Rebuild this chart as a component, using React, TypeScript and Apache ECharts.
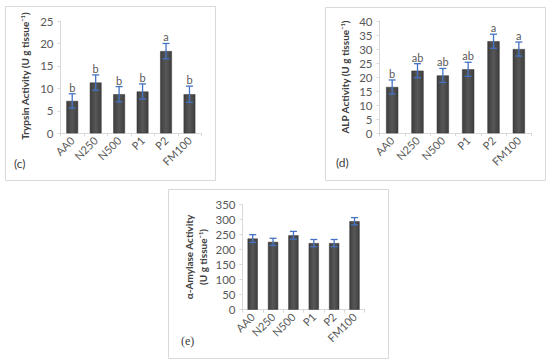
import React, { useEffect, useRef } from "react";
import * as echarts from "echarts";

const categories = ["AA0", "N250", "N500", "P1", "P2", "FM100"];

const trypsinValues = [7.2, 11.3, 8.7, 9.3, 18.3, 8.7];
const trypsinErrors = [1.6, 1.7, 1.7, 1.7, 1.7, 1.8];
const trypsinLetters = ["b", "b", "b", "b", "a", "b"];
const trypsinTicks = { min: 0, max: 25, interval: 5 };

const alpValues = [16.5, 22.3, 20.6, 22.8, 32.8, 30.0];
const alpErrors = [2.5, 2.5, 2.5, 2.5, 2.5, 2.5];
const alpLetters = ["b", "ab", "ab", "ab", "a", "a"];
const alpTicks = { min: 0, max: 40, interval: 5 };

const amylaseValues = [237, 226, 248, 222, 222, 295];
const amylaseErrors = [13, 12, 13, 12, 12, 12];
const amylaseLetters = ["", "", "", "", "", ""];
const amylaseTicks = { min: 0, max: 350, interval: 50 };

const FONT = "Lato, 'Noto Sans', sans-serif";
const GRAY = "#595959";
const DARK = "#404040";
const LIGHT = "#d9d9d9";

const barColor = new echarts.graphic.LinearGradient(0, 0, 1, 0, [
  { offset: 0, color: "#3e3e3e" },
  { offset: 0.5, color: "#575757" },
  { offset: 1, color: "#3e3e3e" },
]);

function errorRender(letters: string[]) {
  return (params: any, api: any) => {
    const x = api.value(0);
    const v = api.value(1);
    const e = api.value(2);
    const top = api.coord([x, v + e]);
    const bot = api.coord([x, v - e]);
    const hw = 3.5;
    const st = { stroke: "#4472c4", lineWidth: 1.3 };
    const children: any[] = [
      { type: "line", shape: { x1: top[0], y1: top[1], x2: bot[0], y2: bot[1] }, style: st },
      { type: "line", shape: { x1: top[0] - hw, y1: top[1], x2: top[0] + hw, y2: top[1] }, style: st },
      { type: "line", shape: { x1: bot[0] - hw, y1: bot[1], x2: bot[0] + hw, y2: bot[1] }, style: st },
    ];
    const letter = letters[params.dataIndex];
    if (letter) {
      children.push({
        type: "text",
        style: {
          text: letter,
          x: top[0],
          y: top[1] - 1,
          align: "center",
          verticalAlign: "bottom",
          fill: GRAY,
          font: `11px ${FONT}`,
        },
      });
    }
    return { type: "group", children };
  };
}

function xAxisFor(gridIndex: number) {
  return {
    type: "category",
    gridIndex,
    data: categories,
    axisLine: { show: true, lineStyle: { color: LIGHT, width: 1 } },
    axisTick: { show: true, length: 3, lineStyle: { color: LIGHT } },
    axisLabel: { rotate: 45, color: GRAY, fontSize: 11, fontFamily: FONT, margin: 5 },
    splitLine: { show: false },
  };
}

function yAxisFor(gridIndex: number, ticks: { min: number; max: number; interval: number }) {
  return {
    type: "value",
    gridIndex,
    min: ticks.min,
    max: ticks.max,
    interval: ticks.interval,
    axisLine: { show: true, lineStyle: { color: LIGHT, width: 1 } },
    axisTick: { show: true, length: 3, lineStyle: { color: LIGHT } },
    axisLabel: { color: GRAY, fontSize: 11.5, fontFamily: FONT, margin: 7 },
    splitLine: { show: false },
  };
}

function barSeries(idx: number, values: number[], width: string) {
  return {
    type: "bar",
    xAxisIndex: idx,
    yAxisIndex: idx,
    data: values,
    barWidth: width,
    itemStyle: { color: barColor, borderColor: "#333333", borderWidth: 0.5 },
    z: 2,
  };
}

function errSeries(idx: number, values: number[], errs: number[], letters: string[]) {
  return {
    type: "custom",
    xAxisIndex: idx,
    yAxisIndex: idx,
    data: values.map((v, i) => [i, v, errs[i]]),
    encode: { x: 0, y: 1 },
    renderItem: errorRender(letters),
    z: 5,
  };
}

function titleText(x: number, y: number, text: string) {
  return {
    type: "text",
    x,
    y,
    rotation: Math.PI / 2,
    style: {
      text,
      align: "center",
      verticalAlign: "middle",
      fill: DARK,
      fontFamily: FONT,
      fontSize: 10,
      fontWeight: 700,
    },
  };
}

function borderRect(x: number, y: number, w: number, h: number) {
  return {
    type: "rect",
    shape: { x: x + 0.5, y: y + 0.5, width: w, height: h },
    style: { fill: "none", stroke: LIGHT, lineWidth: 1 },
    z: -1,
  };
}

function panelLetter(x: number, y: number, text: string, family: string) {
  return {
    type: "text",
    x,
    y,
    style: { text, fill: DARK, fontFamily: family, fontSize: 12, verticalAlign: "middle" },
  };
}

export default function App() {
  const ref = useRef<HTMLDivElement>(null);
  useEffect(() => {
    if (!ref.current) return;
    const chart = echarts.init(ref.current, null, { renderer: "svg" });
    chart.setOption({
      animation: false,
      backgroundColor: "#ffffff",
      grid: [
        { left: 60.5, top: 21, width: 140.7, height: 112.3 },
        { left: 379.5, top: 21, width: 152, height: 112.3 },
        { left: 242.5, top: 204.7, width: 122.2, height: 105 },
      ],
      xAxis: [xAxisFor(0), xAxisFor(1), xAxisFor(2)],
      yAxis: [yAxisFor(0, trypsinTicks), yAxisFor(1, alpTicks), yAxisFor(2, amylaseTicks)],
      series: [
        barSeries(0, trypsinValues, "50%"),
        errSeries(0, trypsinValues, trypsinErrors, trypsinLetters),
        barSeries(1, alpValues, "48%"),
        errSeries(1, alpValues, alpErrors, alpLetters),
        barSeries(2, amylaseValues, "50%"),
        errSeries(2, amylaseValues, amylaseErrors, amylaseLetters),
      ],
      graphic: [
        borderRect(5, 6, 210, 174),
        borderRect(325, 7, 220, 173),
        borderRect(168, 189, 220, 169),
        titleText(25, 76, "Trypsin Activity (U g tissue⁻¹)"),
        titleText(345, 77, "ALP Activity (U g tissue⁻¹)"),
        titleText(189, 257, "α-Amylase Activity"),
        titleText(203, 257, "(U g tissue⁻¹)"),
        panelLetter(14, 163, "(c)", FONT),
        panelLetter(336, 162, "(d)", FONT),
        panelLetter(181, 341, "(e)", "'Liberation Serif', serif"),
      ],
    });
    return () => chart.dispose();
  }, []);
  return (
    <div
      ref={ref}
      style={{ position: "fixed", left: 0, top: 0, width: 550, height: 364 }}
    />
  );
}
